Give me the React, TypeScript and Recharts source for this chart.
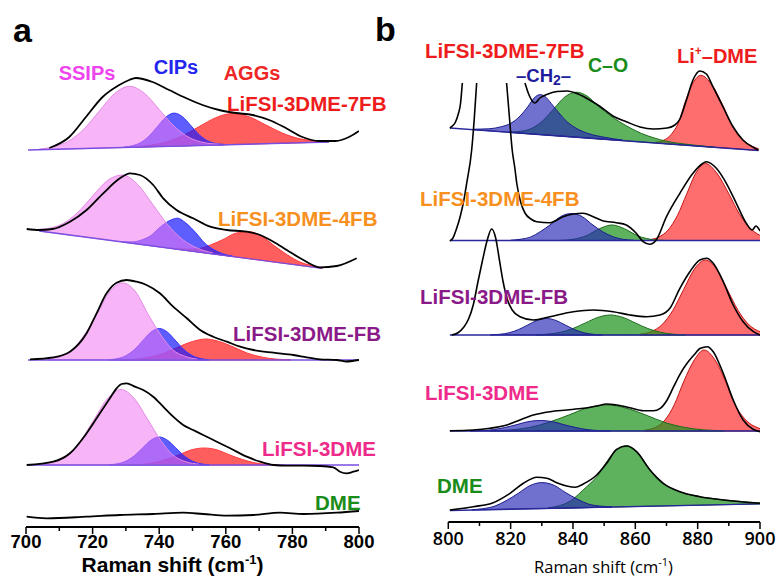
import React from 'react';
import { ComposedChart, Line, Area, XAxis, YAxis } from 'recharts';

type Pt = [number, number];
type Band = [number, number, number];

// ---------------- Panel a (700-800 cm-1) ----------------
const ticksA = [700, 710, 720, 730, 740, 750, 760, 770, 780, 790, 800];
const ticksB = [800, 810, 820, 830, 840, 850, 860, 870, 880, 890, 900];

const a7fbSpectrum: Pt[] = [[707,379],[713,390],[718,410],[723,430],[728,442],[731,447],[733,449],[738,445],[743,437],[748,429],[753,422],[758,417],[763,414],[768,412],[773,407],[778,399],[783,390],[788,386],[793,386],[797,390],[800,396]];
const a7fbSsip: Band[] = [[704,377.4,378],[708.5,377.7,380.4],[713,378.1,386.3],[717.5,378.5,398.3],[722,378.9,415.9],[726.5,379.3,433.1],[731,379.7,440.7],[735.5,380.1,433.9],[740,380.5,417.5],[744.5,380.9,400.7],[749,381.3,389.5],[753.5,381.7,384.4],[758,382.1,382.8]];
const a7fbCip: Band[] = [[729.5,379.6,380],[732,379.8,381.3],[734.5,380,384.5],[737,380.3,391],[739.5,380.5,400.5],[742,380.7,409.8],[744.5,380.9,413.9],[747,381.1,410.2],[749.5,381.4,401.4],[752,381.6,392.3],[754.5,381.8,386.3],[757,382,383.5],[759.5,382.2,382.6]];
const a7fbAgg: Band[] = [[732,379.8,380.1],[737,380.3,381.7],[742,380.7,384.9],[747,381.1,391.2],[752,381.6,400.4],[757,382,409.3],[762,382.5,413.5],[767,382.9,410.2],[772,383.3,402.1],[777,383.8,393.9],[782,384.2,388.4],[787,384.7,386.1],[791,385,385.4]];
const a7fbBaseline: Pt[] = [[700.6,377],[791,385]];

const a4fbSpectrum: Pt[] = [[700.2,298],[704,297],[708,298],[713.2,305.3],[718.2,317],[723.2,333.7],[728.2,348.7],[731.2,353.7],[734.2,352],[738.2,342],[741.2,328.7],[745.2,317],[750.2,308.7],[755.3,300.3],[760.3,297],[766.3,295.3],[770.3,292],[774.3,285.3],[778.3,277],[783.3,267],[788.3,259.7],[793.3,261],[799.3,268.7]];
const a4fbSsip: Band[] = [[704,296,297.8],[706.5,294.9,298.5],[711,292.9,303.2],[715.5,291,314.4],[720,289,330.9],[724.5,287,346.6],[729,285,352],[733.5,283,342.6],[738,281,322.9],[742.5,279.1,302.5],[747,277.2,287.5],[751.5,275.2,278.8],[756,273.2,274.2]];
const a4fbCip: Band[] = [[729,285,285.3],[732,283.7,285.1],[734.5,282.6,286.8],[737.5,281.3,291.4],[740,280.2,299],[743,278.9,306.2],[745.5,277.8,308.8],[748,276.7,304],[751,275.4,294.2],[753.5,274.3,284.4],[756.5,273,277.2],[759,271.9,273.3],[762,270.6,270.9]];
const a4fbAgg: Band[] = [[744,278.4,278.7],[748,276.6,277.8],[752,274.9,278.5],[755.5,273.3,282.1],[759.5,271.6,288],[763,270,293.8],[767,268.3,295.3],[771,266.6,290.4],[774.5,265,281.4],[778.5,263.3,272.1],[782,261.8,265.4],[786,260,261.2],[789,258.6,259]];
const a4fbBaseline: Pt[] = [[704,296],[789,258.6]];

const aFbSpectrum: Pt[] = [[701.2,167.7],[708.2,169.7],[713.2,175.3],[718.2,193.7],[721.2,213.7],[724.2,233.7],[727.2,244.3],[730.2,247],[733.2,245.3],[736.2,242],[740.2,233.7],[744.2,220.3],[748.3,208.7],[752.3,197],[756.2,190.3],[760.3,185.3],[764.3,180.3],[768.3,177],[774.3,174.3],[780.3,172],[784.3,169.7],[788.3,167.7],[793.3,167],[796,165.5],[798,166],[800,167]];
const aFbSsip: Band[] = [[706.5,167,167.8],[710,167,170.4],[714,167,177.4],[717.5,167,192],[721.5,167,213.7],[725,167,234.9],[729,167,244],[733,167,234.9],[736.5,167,213.7],[740.5,167,192],[744,167,177.4],[748,167,170.4],[751.5,167,167.8]];
const aFbCip: Band[] = [[725,167,167.3],[727.5,167,168.4],[730,167,171.3],[732.5,167,177.2],[735,167,186.1],[737.5,167,194.8],[740,167,198.5],[742.5,167,194.8],[745,167,186.1],[747.5,167,177.2],[750,167,171.3],[752.5,167,168.4],[755,167,167.3]];
const aFbAgg: Band[] = [[728.5,167,167.2],[733,167,167.9],[737,167,169.8],[741.5,167,173.8],[745.5,167,179.7],[750,167,185.5],[754,167,188],[758,167,185.5],[762.5,167,179.7],[766.5,167,173.8],[771,167,169.8],[775,167,167.9],[779.5,167,167.2]];
const aFbBaseline: Pt[] = [[700.6,167],[800,167]];

const a3dmeSpectrum: Pt[] = [[700.2,62],[708.2,65.3],[713.2,73.7],[718.2,93.7],[722.2,113.7],[725.2,128.7],[727.2,138.7],[728.7,143],[730.2,143.7],[732.7,140.3],[735.2,137],[738.2,130.3],[741.2,120.3],[744.2,110.3],[747.2,102],[750.2,97],[753.2,92],[757.3,85.3],[761.3,78.7],[766.3,70.3],[770.3,65.3],[774.3,62],[778.3,61.3],[783.3,61.3],[788.3,61],[792.3,59.7],[794.3,55.3],[796.3,53.7],[798.3,55.3],[800,57]];
const a3dmeSsip: Band[] = [[705,62,62.8],[709,62,65.3],[713,62,72.2],[716.5,62,86.5],[720.5,62,107.8],[724.5,62,128.6],[728.5,62,137.5],[732.5,62,128.6],[736.5,62,107.8],[740.5,62,86.5],[744,62,72.2],[748,62,65.3],[752,62,62.8]];
const a3dmeCip: Band[] = [[725,62,62.3],[727.5,62,63.2],[730,62,65.8],[732.5,62,71.1],[735,62,79],[737.5,62,86.7],[740,62,90],[742.5,62,86.7],[745,62,79],[747.5,62,71.1],[750,62,65.8],[752.5,62,63.2],[755,62,62.3]];
const a3dmeAgg: Band[] = [[731,62,62.2],[735,62,62.7],[738.5,62,64.3],[742,62,67.5],[746,62,72.3],[749.5,62,77],[753.5,62,79],[757.5,62,77],[761,62,72.3],[765,62,67.5],[768.5,62,64.3],[772,62,62.7],[776,62,62.2]];
const a3dmeBaseline: Pt[] = [[700.6,62],[800,62]];

const aDmeSpectrum: Pt[] = [[700.2,10.3],[706.2,8.7],[718.2,10.3],[728.2,12],[738.2,13],[747.2,14.3],[753.2,13],[760.3,11.3],[768.3,12],[776.3,14.3],[783.3,13],[793.3,14.3],[800,16]];

// ---------------- Panel b (800-900 cm-1) ----------------
const b7fbSpecLeft: Pt[] = [[800.5,394],[801.3,396],[802.3,400],[803.2,408],[803.9,418],[804.5,439]];
const b7fbSpecRight: Pt[] = [[824.6,439],[825.9,427],[827.8,419],[829.4,424],[832,428],[834.9,430.5],[838.1,431],[841.3,428.5],[844.5,423.5],[848.7,415.5],[852.8,406],[857.3,400],[861.5,395],[865.7,393],[870.2,394],[872.7,397],[874.3,403],[876.3,421],[878.5,442],[880.7,451],[882.8,448],[884.9,435.3],[888.1,415.3],[891.3,395.5],[894.5,382],[897.8,374.7],[899.5,372]];
const b7fbCh2: Band[] = [[808,392.3,392.8],[813,391.2,393.2],[817,390.3,395.3],[820,389.6,398.6],[823,388.9,405.9],[825.5,388.3,415.3],[827.5,387.9,423.9],[829.5,387.4,427.4],[831,387.1,425.6],[833,386.6,418.6],[835.5,386.1,409.1],[838,385.5,400.5],[841,384.8,393.8],[845,383.9,388.4],[850,382.8,384.8],[856,381.4,381.9]];
const b7fbCo: Band[] = [[820,389.6,390.1],[823.5,388.8,390.8],[827,388,394],[830.5,387.2,401.8],[834,386.4,413.7],[837.5,385.6,425.3],[841,384.8,429.8],[844.5,384,426],[848,383.2,416.2],[851.5,382.4,407.4],[855,381.6,400.1],[858.5,380.8,393.8],[862,380,388.5],[866,379.1,384.1],[870,378.2,380.7],[876,376.9,377.9],[885,374.8,375]];
const b7fbLiDme: Band[] = [[866.5,379,379.8],[869,378.5,381.6],[871.5,377.9,387.5],[874,377.3,400.4],[876,376.9,420],[878.5,376.3,438.9],[881,375.7,446.7],[884.5,374.9,437.5],[888,374.1,417.2],[891,373.5,396.6],[894.5,372.7,382.3],[898,371.9,375],[899.5,371.5,373.3]];
const b7fbBaseline: Pt[] = [[800.5,394],[899.5,371.5]];

const b4fbSpecLeft: Pt[] = [[800.5,281],[801.5,284],[802.5,292],[803.8,305.3],[805,322],[805.9,338.7],[807.5,372],[808.3,402],[809.1,439]];
const b4fbSpecRight: Pt[] = [[818.7,439],[819.6,405],[820.5,372],[821.3,355],[822,338],[823.2,320],[824.6,309],[826.5,303],[828.4,300.3],[832.6,299.3],[836.8,305.3],[840.1,308],[843.2,308.7],[846.5,305.3],[849.7,301],[853.9,299.3],[857.1,297],[860.3,288.7],[862.5,280.3],[864.6,277.7],[866.7,282],[870,305.3],[874.3,328.7],[878.5,348.7],[881.7,358.7],[882.8,360.3],[886,353.7],[889.2,338.7],[892.4,318.7],[895.6,298.7],[897.5,292],[898.7,296],[900,291]];
const b4fbCh2: Band[] = [[820,281.5,281.8],[823,281.5,282.7],[826.5,281.5,285.1],[829.5,281.5,290.3],[833,281.5,297.9],[836,281.5,305.3],[839.5,281.5,308.5],[843,281.5,305.3],[846,281.5,297.9],[849.5,281.5,290.3],[853,281.5,285.1],[856,281.5,282.7],[859.5,281.5,281.8]];
const b4fbCo: Band[] = [[836,281.5,281.7],[839,281.5,282.2],[841.5,281.5,283.6],[844.5,281.5,286.5],[847,281.5,290.9],[850,281.5,295.2],[852.5,281.5,297],[855,281.5,295.2],[858,281.5,290.9],[860.5,281.5,286.5],[863.5,281.5,283.6],[866,281.5,282.2],[869,281.5,281.7]];
const b4fbLiDme: Band[] = [[864.5,281.5,282.3],[867.5,281.5,284.9],[870.5,281.5,291.9],[873.5,281.5,306.5],[876.5,281.5,328.2],[879.5,281.5,349.4],[882.5,281.5,358.5],[886,281.5,349.5],[890,281.5,328.2],[893.5,281.5,307.4],[897.5,281.5,291.9],[900,281.5,286.6]];
const b4fbBaseline: Pt[] = [[800.5,281.5],[900,281.5]];

const bFbSpectrum: Pt[] = [[801.1,187],[803,189],[805,195],[806.5,203],[808,217],[809.5,240],[811,262],[812.5,282],[813.9,293],[815.2,284],[816.4,262],[817.6,240],[819,222],[820.5,212],[823,205.3],[827.3,202],[832.6,205.3],[840.1,210.3],[846.5,212],[852.9,210.3],[858.3,207],[863.6,205.3],[867.9,207],[871.1,213.7],[874.3,233.7],[877.5,250.3],[880.7,262],[882.9,263.7],[885,258.7],[888.2,240.3],[891.4,217],[894.6,200.3],[897.9,190.3],[900,187]];
const bFbCh2: Band[] = [[813.5,187,187.2],[816.5,187,187.7],[819.5,187,189.2],[822.5,187,192.4],[825.5,187,197],[828.5,187,201.6],[831.5,187,203.5],[834.5,187,201.6],[837.5,187,197],[840.5,187,192.4],[843.5,187,189.2],[846.5,187,187.7],[849.5,187,187.2]];
const bFbCo: Band[] = [[828,187,187.2],[832,187,187.9],[836,187,189.7],[840,187,193.5],[844,187,199.1],[848,187,204.6],[852,187,207],[856,187,204.6],[860,187,199.1],[864,187,193.5],[868,187,189.7],[872,187,187.9],[876,187,187.2]];
const bFbLiDme: Band[] = [[861.5,187,187.8],[865,187,190.3],[868.5,187,197.1],[872,187,211.4],[875.5,187,232.5],[879,187,253.2],[882.5,187,262],[886,187,253.2],[889.5,187,232.5],[893,187,211.4],[896.5,187,197.1],[900,187,190.3]];
const bFbBaseline: Pt[] = [[800.5,187],[900,187]];

const b3dmeSpectrum: Pt[] = [[800.5,91.3],[808,92],[813.4,93.7],[818.8,97],[823,102],[827.3,107],[832.6,110.3],[838,112],[843.3,113.7],[847.6,116],[850.8,118],[854,117],[858.3,114.3],[862.6,111.3],[865.8,111.3],[868,113.7],[870.2,122],[872.3,135.3],[874.5,148.7],[876.6,158.7],[878.8,167],[880.9,173.7],[883.1,175.3],[885,170.3],[888.2,148.7],[891.4,122],[894.6,102],[897.8,92.7],[900,90.3]];
const b3dmeCh2: Band[] = [[807,91,91.1],[811,91,91.5],[814.5,91,92.4],[818,91,94.4],[822,91,97.4],[825.5,91,100.3],[829.5,91,101.5],[833.5,91,100.3],[837,91,97.4],[841,91,94.4],[844.5,91,92.4],[848,91,91.5],[852,91,91.1]];
const b3dmeCo: Band[] = [[813.5,91,91.3],[820,91,92.1],[826,91,94.5],[832,91,99.5],[838.5,91,106.8],[844.5,91,113.9],[851,91,117],[857,91,113.9],[863.5,91,106.8],[869.5,91,99.5],[876,91,94.5],[882,91,92.1],[888.5,91,91.3]];
const b3dmeLiDme: Band[] = [[863,91,91.9],[866.5,91,94.6],[869.5,91,101.9],[872.5,91,117.3],[875.5,91,140.2],[879,91,162.4],[882,91,172],[885.5,91,162.4],[889,91,140.2],[892,91,117.3],[895.5,91,101.9],[900,91,93.4]];
const b3dmeBaseline: Pt[] = [[800.5,91],[900,91]];

const bDmeSpectrum: Pt[] = [[800.5,12],[808,15.3],[814.4,19.3],[819.8,28.7],[824.1,38.7],[828.4,44.7],[831.6,43.7],[834.8,39.3],[838,36],[840.7,34.7],[843.3,38],[847.6,47],[850.8,58.7],[854,72.7],[857.2,76],[860.4,70.3],[864.7,52],[869,38.7],[874.3,30.3],[880.7,25.3],[888.2,22],[900,18.7]];
const bDmeCh2: Band[] = [[807.5,12,12.3],[811,12.2,13.3],[815,12.5,16],[818.5,12.7,21.2],[822.5,13,28.8],[826,13.2,36.1],[830,13.4,39.4],[834,13.7,36.6],[837.5,13.9,29.7],[841.5,14.2,22.7],[845,14.4,17.9],[849,14.7,15.8],[852.5,14.9,15.2]];
const bDmeCo: Band[] = [[832,13.6,14.1],[835,13.8,15.8],[838,14,19],[840.5,14.1,24.1],[843,14.3,31.3],[845.5,14.5,38.5],[848,14.6,46.6],[850.5,14.8,58.8],[853,15,69],[855.5,15.1,75.1],[857,15.2,76.2],[859,15.4,74.4],[861,15.5,68.5],[864,15.7,55.7],[867,15.9,42.9],[870,16.1,36.1],[874,16.4,30.4],[880,16.7,25.7],[888,17.3,22.3],[900,18.1,19.1]];
const bDmeBaseline: Pt[] = [[800.5,11.5],[900,18.1]];

// ---------------- helpers ----------------
const lineData = (pts: Pt[]) => pts.map(([x, y]) => ({ x, y }));
const bandData = (pts: Band[]) => pts.map(([x, lo, hi]) => ({ x, v: [lo, hi] }));

const ARIAL = "'Liberation Sans', Arial, Helvetica, sans-serif";
const OPEN = "'Open Sans', 'Noto Sans', sans-serif";

const RED_A = { fill: '#ff1a1a', fillOpacity: 0.7, stroke: '#ff3a3a' };
const BLUE_A = { fill: '#1a1aff', fillOpacity: 0.7, stroke: '#3535ff' };
const PINK_A = { fill: '#f077f0', fillOpacity: 0.55, stroke: '#e58ae5' };
const RED_B = { fill: '#ff2020', fillOpacity: 0.65, stroke: '#c41414' };
const GREEN_B = { fill: '#1a921a', fillOpacity: 0.7, stroke: '#1d6a1d' };
const BLUE_B = { fill: '#2323b4', fillOpacity: 0.65, stroke: '#1c1c8c' };

const areasA = [
  { d: a7fbAgg, c: RED_A }, { d: a7fbCip, c: BLUE_A }, { d: a7fbSsip, c: PINK_A },
  { d: a4fbAgg, c: RED_A }, { d: a4fbCip, c: BLUE_A }, { d: a4fbSsip, c: PINK_A },
  { d: aFbAgg, c: RED_A }, { d: aFbCip, c: BLUE_A }, { d: aFbSsip, c: PINK_A },
  { d: a3dmeAgg, c: RED_A }, { d: a3dmeCip, c: BLUE_A }, { d: a3dmeSsip, c: PINK_A },
];
const baselinesA = [a7fbBaseline, a4fbBaseline, aFbBaseline, a3dmeBaseline];
const spectraA = [a7fbSpectrum, a4fbSpectrum, aFbSpectrum, a3dmeSpectrum, aDmeSpectrum];

const areasB = [
  { d: b7fbLiDme, c: RED_B }, { d: b7fbCo, c: GREEN_B }, { d: b7fbCh2, c: BLUE_B },
  { d: b4fbLiDme, c: RED_B }, { d: b4fbCo, c: GREEN_B }, { d: b4fbCh2, c: BLUE_B },
  { d: bFbLiDme, c: RED_B }, { d: bFbCo, c: GREEN_B }, { d: bFbCh2, c: BLUE_B },
  { d: b3dmeLiDme, c: RED_B }, { d: b3dmeCo, c: GREEN_B }, { d: b3dmeCh2, c: BLUE_B },
  { d: bDmeCo, c: GREEN_B }, { d: bDmeCh2, c: BLUE_B },
];
const baselinesB = [b7fbBaseline, b4fbBaseline, bFbBaseline, b3dmeBaseline, bDmeBaseline];
const spectraB = [b7fbSpecLeft, b7fbSpecRight, b4fbSpecLeft, b4fbSpecRight, bFbSpectrum, b3dmeSpectrum, bDmeSpectrum];

const makeTick = (family: string, weight: number | string, size: number, dy: number) => (props: any) => {
  const { x, y, payload } = props;
  const v = payload.value;
  const major = v % 20 === 0;
  return (
    <g>
      <line x1={x} x2={x} y1={y} y2={y + (major ? 7 : 4)} stroke="#000" strokeWidth={1.5} />
      {major ? (
        <text x={x} y={y + dy} textAnchor="middle" fontFamily={family} fontWeight={weight} fontSize={size} fill="#000">
          {v}
        </text>
      ) : null}
    </g>
  );
};

const TickA = makeTick(ARIAL, 'bold', 18.5, 21);
const TickB = makeTick(OPEN, 600, 18, 23);

function renderAreas(list: { d: Band[]; c: any }[], prefix: string) {
  return list.map((a, i) => (
    <Area
      key={`${prefix}-area-${i}`}
      data={bandData(a.d)}
      dataKey="v"
      type="monotone"
      fill={a.c.fill}
      fillOpacity={a.c.fillOpacity}
      stroke={a.c.stroke}
      strokeWidth={1}
      dot={false}
      activeDot={false}
      isAnimationActive={false}
    />
  ));
}

function renderLines(list: Pt[][], prefix: string, color: string, width: number, type: any) {
  return list.map((d, i) => (
    <Line
      key={`${prefix}-line-${i}`}
      data={lineData(d)}
      dataKey="y"
      type={type}
      stroke={color}
      strokeWidth={width}
      dot={false}
      activeDot={false}
      isAnimationActive={false}
    />
  ));
}

export default function App() {
  return (
    <div style={{ position: 'absolute', left: 0, top: 0, width: 778, height: 578, background: '#fff', overflow: 'hidden' }}>
      <div style={{ position: 'absolute', left: 0, top: 0 }}>
        <ComposedChart width={390} height={578} margin={{ top: 0, right: 31, bottom: 0, left: 26 }}>
          <XAxis
            dataKey="x"
            type="number"
            domain={[700, 800]}
            ticks={ticksA}
            interval={0}
            allowDataOverflow
            tickSize={0}
            tickMargin={0}
            tickLine={false}
            axisLine={{ stroke: '#000', strokeWidth: 2 }}
            height={51}
            tick={TickA}
          />
          <YAxis hide type="number" domain={[0, 527]} allowDataOverflow width={0} />
          {renderAreas(areasA, 'a')}
          {renderLines(baselinesA, 'abase', '#7a4ee0', 1.4, 'linear')}
          {renderLines(spectraA, 'aspec', '#000', 1.8, 'monotone')}
        </ComposedChart>
      </div>
      <div style={{ position: 'absolute', left: 390, top: 0 }}>
        <ComposedChart width={388} height={578} margin={{ top: 0, right: 18, bottom: 0, left: 58.3 }}>
          <XAxis
            dataKey="x"
            type="number"
            domain={[800, 900]}
            ticks={ticksB}
            interval={0}
            allowDataOverflow
            tickSize={0}
            tickMargin={0}
            tickLine={false}
            axisLine={{ stroke: '#000', strokeWidth: 2 }}
            height={56}
            tick={TickB}
          />
          <YAxis hide type="number" domain={[0, 522]} allowDataOverflow width={0} />
          {renderAreas(areasB, 'b')}
          {renderLines(baselinesB, 'bbase', '#27279a', 1.4, 'linear')}
          {renderLines(spectraB, 'bspec', '#000', 1.6, 'monotone')}
        </ComposedChart>
      </div>
      <svg width={778} height={578} style={{ position: 'absolute', left: 0, top: 0, pointerEvents: 'none' }}>
        <g fontFamily={ARIAL} fontWeight="bold">
          <text x={13} y={42} fontSize={34} fill="#000">a</text>
          <text x={375} y={41} fontSize={34} fill="#000">b</text>

          <text x={87} y={80} fontSize={20} fill="#ee44ee" textAnchor="middle">SSIPs</text>
          <text x={176} y={74} fontSize={20} fill="#2525f0" textAnchor="middle">CIPs</text>
          <text x={252} y={80} fontSize={20} fill="#f02525" textAnchor="middle">AGGs</text>

          <text x={227} y={111} fontSize={20.5} fill="#ee1c1c">LiFSI-3DME-7FB</text>
          <text x={218} y={226} fontSize={20.5} fill="#f7901e">LiFSI-3DME-4FB</text>
          <text x={233} y={341} fontSize={20.5} fill="#8b1a89">LiFSI-3DME-FB</text>
          <text x={262} y={456} fontSize={20.5} fill="#ee2a8a">LiFSI-3DME</text>
          <text x={315} y={510} fontSize={20.5} fill="#1a8c1a">DME</text>

          <text x={425} y={57.5} fontSize={20.5} fill="#ee1c1c">LiFSI-3DME-7FB</text>
          <text x={516} y={81.5} fontSize={18.5} fill="#1c1c9c">
            –CH<tspan fontSize={14} dy={3}>2</tspan><tspan dy={-3}>–</tspan>
          </text>
          <text x={588} y={71.5} fontSize={19.5} fill="#1a8c1a">C–O</text>
          <text x={677} y={63} fontSize={20} fill="#ee1c1c">
            Li<tspan fontSize={12} dy={-8}>+</tspan><tspan dy={8}>–DME</tspan>
          </text>
          <text x={420} y={206} fontSize={20.5} fill="#f7901e">LiFSI-3DME-4FB</text>
          <text x={420} y={304} fontSize={20.5} fill="#8b1a89">LiFSI-3DME-FB</text>
          <text x={425} y={400} fontSize={20.5} fill="#ee2a8a">LiFSI-3DME</text>
          <text x={437} y={493} fontSize={20.5} fill="#1a8c1a">DME</text>

          <text x={172.5} y={572} fontSize={21} fill="#000" textAnchor="middle">
            Raman shift (cm<tspan fontSize={13} dy={-8}>-1</tspan><tspan dy={8}>)</tspan>
          </text>
        </g>
        <text x={603.5} y={573} fontFamily={OPEN} fontSize={16.5} fill="#000" textAnchor="middle">
          Raman shift (cm<tspan fontSize={11} dy={-7}>-1</tspan><tspan dy={7}>)</tspan>
        </text>
      </svg>
    </div>
  );
}
